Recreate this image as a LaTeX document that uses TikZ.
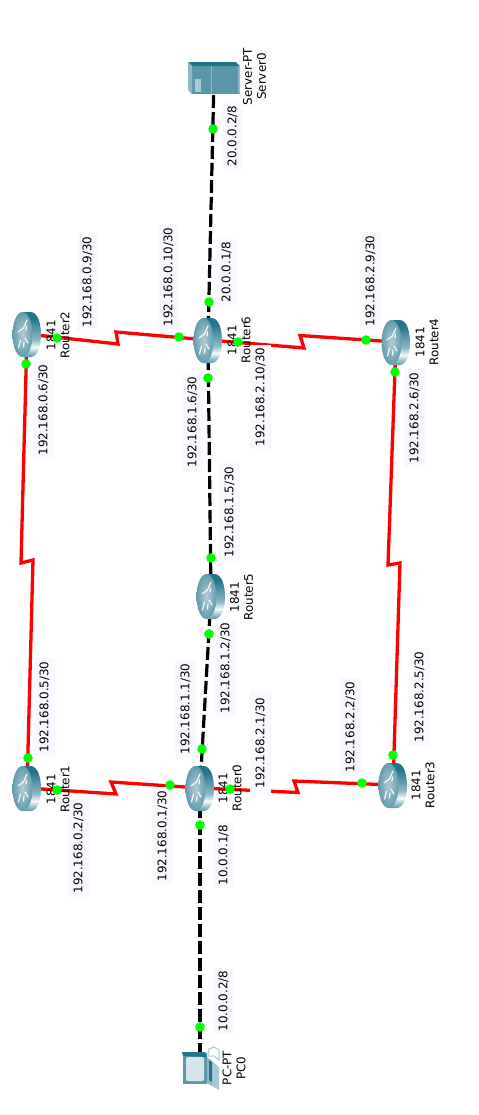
\documentclass[tikz,border=0pt]{standalone}
\usepackage{fontspec}
\setmainfont{DejaVu Sans}
\definecolor{bgl}{HTML}{F8F8FF}
\definecolor{tdark}{HTML}{22748B}
\definecolor{tmid}{HTML}{5B97AA}
\definecolor{tlight}{HTML}{8FB8C6}
\definecolor{tpale}{HTML}{A8CAD4}
\definecolor{scr}{HTML}{D5E5EC}
\pgfdeclareverticalshading{routerbody}{100bp}{
 color(0bp)=(tmid); color(25bp)=(tmid); color(31bp)=(tpale); color(36bp)=(white!90!tpale);
 color(44bp)=(tlight); color(56bp)=(tmid); color(68bp)=(tdark); color(75bp)=(tdark); color(100bp)=(tdark)}
\tikzset{
 devnode/.style={inner sep=0pt,minimum size=1bp},
 redlink/.style={draw=red,line width=3.3bp,line join=miter},
 blacklink/.style={draw=black,line width=3.2bp,dash pattern=on 13bp off 4bp},
 iplabel/.style={rotate=90,fill=bgl,font=\fontsize{11.9bp}{14bp}\selectfont,text=black,inner xsep=3bp,inner ysep=0pt,minimum height=21bp,text depth=0pt},
 devlabel/.style={rotate=90,align=center,font=\fontsize{11.9bp}{14bp}\selectfont,text=black,inner sep=0pt},
 dot/.style={circle,fill=green,inner sep=0pt,minimum size=9.6bp}
}
\newcommand{\routericon}[1]{%
\begin{scope}[shift={(#1.center)}]
 \shade[shading=routerbody] (-4.5,-22) -- (3.5,-22) .. controls (11,-22) and (14,-10) .. (14,0.5) .. controls (14,11) and (11,23) .. (3.5,23) -- (-4.5,23) -- cycle;
 \shade[inner color=tlight!70!white,outer color=tmid!85!tlight] (-4.5,0.5) ellipse [x radius=10,y radius=22.5];
 \draw[white!90!tpale,line width=1.2bp,line cap=round] (-9,-2) -- (-3.5,-6) (-3.5,-6) -- (0,-14) (-1,-4) -- (-0.5,-8)
   (-8.5,14) -- (-6.5,6) (-2,4) -- (1,9) (-3.5,13) -- (-3,8);
\end{scope}}
\begin{document}
\begin{tikzpicture}[x=1bp,y=-1bp]
\useasboundingbox (0,0) rectangle (479,1115);
% device anchors
\node[devnode] (R2) at (27,334) {};
\node[devnode] (R6) at (208,340) {};
\node[devnode] (R4) at (396,342) {};
\node[devnode] (R5) at (211,596) {};
\node[devnode] (R1) at (27,788) {};
\node[devnode] (R0) at (200,788) {};
\node[devnode] (R3) at (393,785) {};
\node[devnode] (S0) at (214,78) {};
\node[devnode] (P0) at (200,1068) {};
% links
\draw[blacklink] (S0.center) -- (R6.center);
\draw[blacklink] (R6.center) -- (R5.center);
\draw[blacklink] (R5.center) -- (R0.center);
\draw[blacklink] (R0.center) -- (P0.center);
\draw[redlink] (R2.center) -- (118,344) -- (116,332) -- (R6.center);
\draw[redlink] (R6.center) -- (304,348) -- (300,335.5) -- (R4.center);
\draw[redlink] (R1.center) -- (116,794) -- (111,782) -- (R0.center);
\draw[redlink] (R0.center) -- (298,792.5) -- (294,781) -- (R3.center);
\draw[redlink] (R2.center) -- (21,563) -- (33,560) -- (R1.center);
\draw[redlink] (R4.center) -- (388,565) -- (400,563) -- (R3.center);
% ip labels
\node[iplabel] (l1) at (232,136) {20.0.0.2/8};
\node[iplabel] (l2) at (226,272) {20.0.0.1/8};
\node[iplabel] (l3) at (168,277) {192.168.0.10/30};
\node[iplabel] (l4) at (87,282) {192.168.0.9/30};
\node[iplabel] (l5) at (43,410) {192.168.0.6/30};
\node[iplabel] (l6) at (192,422) {192.168.1.6/30};
\node[iplabel] (l7) at (229,512) {192.168.1.5/30};
\node[iplabel] (l8) at (260,397) {192.168.2.10/30};
\node[iplabel] (l9) at (370,281) {192.168.2.9/30};
\node[iplabel] (l10) at (414,418) {192.168.2.6/30};
\node[iplabel] (l11) at (419,697) {192.168.2.5/30};
\node[iplabel] (l12) at (350,727) {192.168.2.2/30};
\node[iplabel,inner xsep=6bp] (l13) at (260,743) {192.168.2.1/30};
\node[iplabel] (l14) at (225,668) {192.168.1.2/30};
\node[iplabel] (l15) at (185,709) {192.168.1.1/30};
\node[iplabel] (l16) at (44,707) {192.168.0.5/30};
\node[iplabel] (l17) at (78,848) {192.168.0.2/30};
\node[iplabel] (l18) at (162,836) {192.168.0.1/30};
\node[iplabel] (l19) at (223,855) {10.0.0.1/8};
\node[iplabel] (l20) at (223,1001) {10.0.0.2/8};
% routers
\routericon{R2}\routericon{R6}\routericon{R4}\routericon{R5}\routericon{R1}\routericon{R0}\routericon{R3}
% server
\fill[tmid] (192,66) rectangle (240,94);
\fill[tdark] (188,62) -- (236,62) -- (240,66) -- (192,66) -- cycle;
\fill[tlight] (188,62) -- (192,66) -- (192,94) -- (188,90) -- cycle;
\fill[tpale] (195,79) rectangle (201,92);
\draw[tlight,line width=0.7bp] (211,66) -- (211,93);
\fill[tlight] (238,66) rectangle (240,93);
% pc
\fill[tmid] (183,1053) rectangle (207,1084);
\fill[tdark] (182,1052) -- (205,1052) -- (207,1057) -- (183,1056) -- cycle;
\fill[scr,rounded corners=1.5bp] (186,1057) rectangle (204,1081);
\fill[tlight] (207,1057) -- (212,1061) -- (212,1086) -- (207,1083) -- cycle;
\fill[tpale] (212,1061) -- (219,1067) -- (219,1090) -- (212,1086) -- cycle;
\fill[tdark] (209,1060) -- (212,1062) -- (212,1082) -- (209,1080) -- cycle;
\draw[tpale,line width=1bp,fill=white] (208,1056) -- (209,1049) -- (214,1047) -- (219,1050) -- (219,1060) -- (214,1056) -- cycle;
% device labels
\node[devlabel] (t2) at (58,335) {1841\\Router2};
\node[devlabel] (t6) at (239,340) {1841\\Router6};
\node[devlabel] (t4) at (427,342) {1841\\Router4};
\node[devlabel] (t5) at (241.500,597) {1841\\Router5};
\node[devlabel] (t1) at (58,789) {1841\\Router1};
\node[devlabel] (t0) at (230,788) {1841\\Router0};
\node[devlabel] (t3) at (423,785) {1841\\Router3};
\node[devlabel] (ts) at (254.500,76.500) {Server-PT\\Server0};
\node[devlabel] (tp) at (234,1068) {PC-PT\\PC0};
% dots
\foreach \n/\x/\y in {a/213/129,b/209/302,c/179/337,d/238/342,e/208/378,f/211/558,g/209/634,h/202/749,i/170/785,j/230/789,k/200/825,m/200/1027,n/57/338,o/26/364,p/28/758,q/57/790,r/366/340,s/395/372,t/393/755,u/362/783}
  \node[dot] (dot\n) at (\x,\y) {};
\end{tikzpicture}
\end{document}
